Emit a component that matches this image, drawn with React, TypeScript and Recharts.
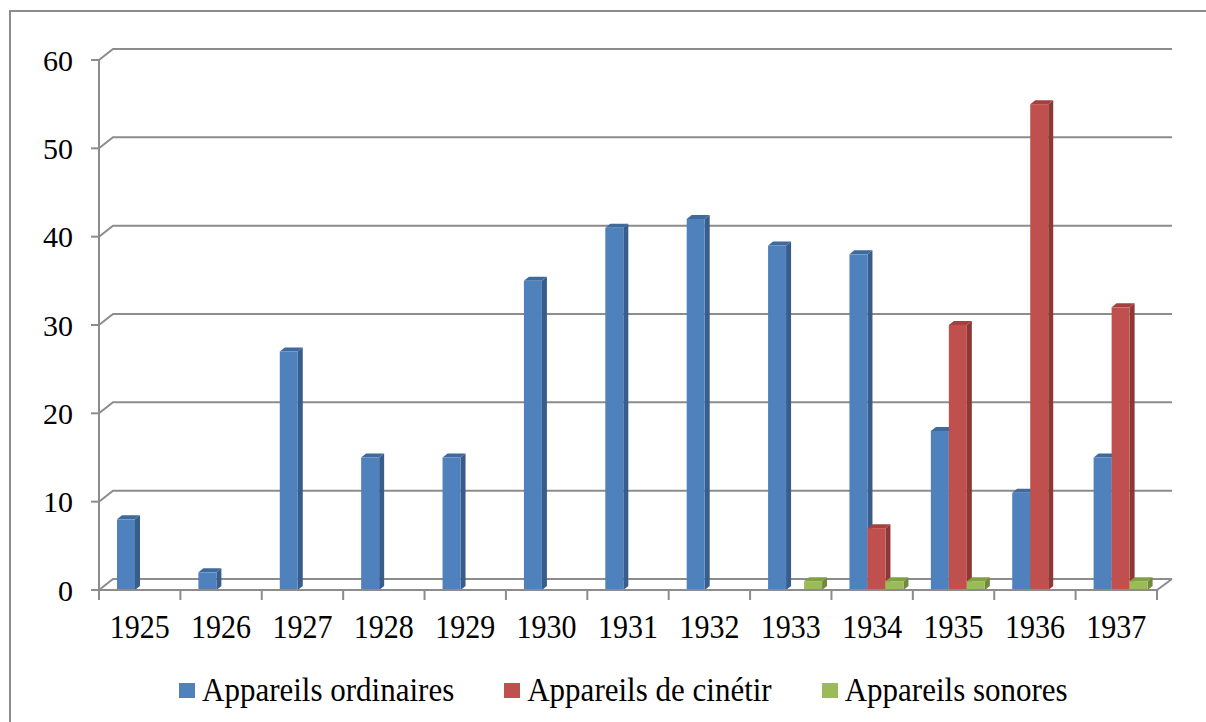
import { Bar, BarChart, CartesianGrid, XAxis, YAxis } from "recharts";

const years = ['1925', '1926', '1927', '1928', '1929', '1930', '1931', '1932', '1933', '1934', '1935', '1936', '1937'];
const ordinaires = [8, 2, 27, 15, 15, 35, 41, 42, 39, 38, 18, 11, 15];
const cinetir = [null, null, null, null, null, null, null, null, null, 7, 30, 55, 32];
const sonores = [null, null, null, null, null, null, null, null, 1, 1, 1, null, 1];
const yTicks = [0, 10, 20, 30, 40, 50, 60];

const series = [
    { key: 'ordinaires', name: 'Appareils ordinaires', front: '#4F81BD', side: '#385D8A', top: '#3F6A9E' },
    { key: 'cinetir', name: 'Appareils de cinétir', front: '#C0504D', side: '#8C3836', top: '#A2413E' },
    { key: 'sonores', name: 'Appareils sonores', front: '#9BBB59', side: '#71893F', top: '#80A044' },
];

const data = years.map((year, i) => ({
    year,
    ordinaires: ordinaires[i],
    cinetir: cinetir[i],
    sonores: sonores[i],
}));

const FONT = 'Liberation Serif, Times New Roman, Tinos, DejaVu Serif, serif';
const GRID = '#8C8C8C';
const W = 1206;
const H = 722;
// front plot box
const LEFT = 99, RIGHT = 1157, TOP = 60, BOTTOM = 590;
const DEPTH_X = 15, DEPTH_Y = 11;
const band = (RIGHT - LEFT) / years.length;

// 3d looking bar: front face + side + top
const bar3d = (colors: { front: string; side: string; top: string }) => (props: any) => {
    const { x, y, width, height } = props;
    if (!height || height <= 0) return <g />;
    const bx = x + 4;
    const dx = 5, dy = 4;
    return (
        <g>
            <polygon points={`${bx + width},${y} ${bx + width + dx},${y - dy} ${bx + width + dx},${y + height - dy} ${bx + width},${y + height}`} fill={colors.side} />
            <polygon points={`${bx},${y} ${bx + dx},${y - dy} ${bx + width + dx},${y - dy} ${bx + width},${y}`} fill={colors.top} />
            <rect x={bx} y={y} width={width} height={height} fill={colors.front} />
        </g>
    );
};

const gridLine = (props: any) => {
    const { x1, x2, y1, index } = props;
    const isFloor = Math.abs(y1 - BOTTOM) < 1;
    return (
        <g key={`g-${index}`}>
            <path d={`M${x1},${y1} L${x1 + DEPTH_X - 1},${y1 - DEPTH_Y} L${x2 + DEPTH_X},${y1 - DEPTH_Y}`} stroke={GRID} strokeWidth={2} fill="none" />
            {isFloor && <path d={`M${x2},${y1} L${x2 + DEPTH_X},${y1 - DEPTH_Y}`} stroke={GRID} strokeWidth={2} fill="none" />}
        </g>
    );
};

const XTick = (props: any) => {
    const { x, y, payload, index } = props;
    const left = x - band / 2;
    return (
        <g>
            <line x1={left} y1={y - 10} x2={left} y2={y} stroke={GRID} strokeWidth={2} />
            {index === years.length - 1 && <line x1={x + band / 2} y1={y - 10} x2={x + band / 2} y2={y} stroke={GRID} strokeWidth={2} />}
            <text transform={`translate(${x},${y + 38}) scale(1,1.13)`} textAnchor="middle" fontFamily={FONT} fontSize={30} fill="#000">{payload.value}</text>
        </g>
    );
};

export default function App() {
    return (
        <div style={{ position: 'absolute', left: 0, top: 0, width: W, height: H, overflow: 'hidden', background: '#fff' }}>
            <div style={{ position: 'absolute', left: 9, top: 10, width: 1300, height: 900, border: `2px solid ${GRID}`, boxSizing: 'border-box' }} />
            <div style={{ position: 'absolute', left: 0, top: 0 }}>
                <BarChart
                    width={W}
                    height={H}
                    data={data}
                    barSize={18}
                    barGap={0}
                    margin={{ top: TOP, left: LEFT - 60, right: W - RIGHT, bottom: H - BOTTOM - 50 }}
                >
                    <CartesianGrid vertical={false} horizontal={gridLine} stroke={GRID} />
                    <XAxis
                        dataKey="year"
                        type="category"
                        height={50}
                        tickSize={10}
                        tickMargin={0}
                        tickLine={false}
                        axisLine={{ stroke: GRID, strokeWidth: 2 }}
                        tick={<XTick />}
                        interval={0}
                    />
                    <YAxis
                        type="number"
                        domain={[0, 60]}
                        ticks={yTicks}
                        width={60}
                        tickSize={8}
                        tickMargin={18}
                        axisLine={{ stroke: GRID, strokeWidth: 2 }}
                        tickLine={{ stroke: GRID, strokeWidth: 2 }}
                        tick={{ fontFamily: FONT, fontSize: 30, fill: '#000' }}
                        interval={0}
                    />
                    {series.map((s) => (
                        <Bar key={s.key} dataKey={s.key} name={s.name} fill={s.front} shape={bar3d(s)} isAnimationActive={false} />
                    ))}
                </BarChart>
            </div>
            <div style={{ position: 'absolute', left: 179, top: 672, display: 'flex', alignItems: 'center', fontFamily: FONT, fontSize: 31, color: '#000', whiteSpace: 'nowrap' }}>
                {series.map((s) => (
                    <div key={s.key} style={{ display: 'flex', alignItems: 'center', marginRight: 50 }}>
                        <span style={{ display: 'inline-block', width: 16, height: 15, background: s.front, marginRight: 7 }} />
                        <span style={{ display: 'inline-block', transform: 'scaleY(1.08)' }}>{s.name}</span>
                    </div>
                ))}
            </div>
        </div>
    );
}
